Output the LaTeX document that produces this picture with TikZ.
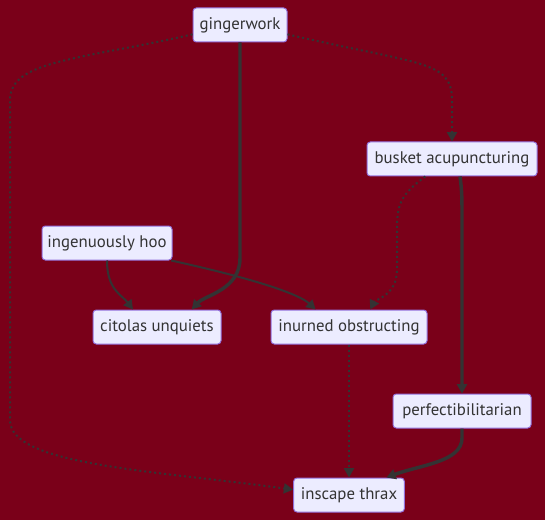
\documentclass[tikz,border=0pt]{standalone}
\usepackage{xcolor}
\usepackage{fontspec}
\setmainfont{PT Sans}
\usepackage{tikz}
\usetikzlibrary{arrows.meta}
\definecolor{bgred}{HTML}{7A0019}
\definecolor{boxfill}{HTML}{ECECFF}
\definecolor{boxline}{HTML}{9370DB}
\definecolor{linkgrey}{HTML}{333333}

\begin{document}
\begin{tikzpicture}[x=0.75pt,y=-0.75pt]
  \tikzstyle{box}=[draw=boxline,fill=boxfill,line width=0.75pt,rounded corners=2.5pt,
                   text=linkgrey,font=\fontsize{12.6}{14}\selectfont,minimum height=25.5pt,inner sep=0pt]
  \tikzstyle{link}=[draw=linkgrey,line width=1.5pt,-{Triangle[length=7pt,width=7.5pt]}]
  \tikzstyle{thicklink}=[link,line width=2.6pt]
  \tikzstyle{dotlink}=[link,dash pattern=on 1.5pt off 2.25pt]
  \fill[bgred] (0,0) rectangle (545,520);
  \node[box,minimum width=70.5pt]  (ging)  at (240,25)  {gingerwork};
  \node[box,minimum width=127.5pt] (busk)  at (452,159) {busket acupuncturing};
  \node[box,minimum width=97.5pt]  (ingen) at (107,243) {ingenuously hoo};
  \node[box,minimum width=96pt]    (cito)  at (157,327) {citolas unquiets};
  \node[box,minimum width=117pt]   (inur)  at (349,327) {inurned obstructing};
  \node[box,minimum width=103.5pt] (perf)  at (462,411) {perfectibilitarian};
  \node[box,minimum width=83pt]    (insc)  at (349,495) {inscape thrax};
  \draw[dotlink] ([yshift=-7pt]ging.west) .. controls (80,60) and (10,60) .. (10,100)
                 -- (10,420) .. controls (10,465) and (150,470) .. ([yshift=4pt]insc.west);
  \draw[dotlink] ([yshift=-7pt]ging.east) .. controls (420,65) and (452,60) .. (452,100)
                 -- (busk.north);
  \draw[thicklink] (ging.south) -- (240,258) .. controls (240,290) and (205,295) .. ([xshift=26pt]cito.north);
  \draw[link] (ingen.south) .. controls (107,290) and (122,295) .. ([xshift=-18pt]cito.north);
  \draw[link] ([xshift=-1pt]ingen.south east) .. controls (260,280) and (300,295) .. ([xshift=-25pt]inur.north);
  \draw[dotlink] ([xshift=-20pt]busk.south) .. controls (400,195) and (397,205) .. (397,230)
                 -- (397,270) .. controls (397,295) and (375,300) .. ([xshift=16pt]inur.north);
  \draw[thicklink] ([xshift=6pt]busk.south) .. controls (461,185) and (462,190) .. (462,210) -- (perf.north);
  \draw[dotlink] (inur.south) -- (insc.north);
  \draw[thicklink] (perf.south) -- (462,438) .. controls (462,462) and (420,465) .. ([xshift=28pt]insc.north);
\end{tikzpicture}
\end{document}
